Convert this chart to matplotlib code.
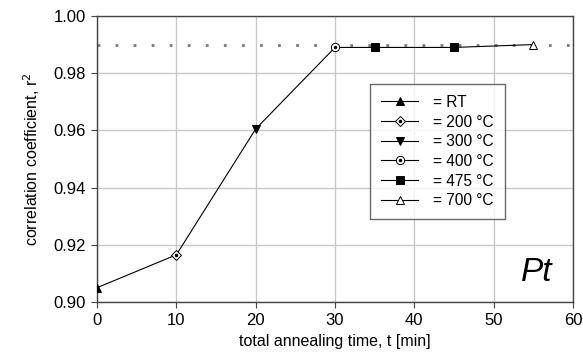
import matplotlib
matplotlib.use("Agg")
import matplotlib.pyplot as plt
from matplotlib.lines import Line2D

plt.rcParams['font.family'] = ['Liberation Sans', 'DejaVu Sans']

# annealing time [min] and correlation coefficient r^2 for each temperature step
time_min = [0, 10, 20, 30, 35, 45, 55]
r_squared = [0.905, 0.9165, 0.9605, 0.989, 0.989, 0.989, 0.990]
step_labels = ["= RT", "= 200 °C", "= 300 °C", "= 400 °C", "= 475 °C", "= 475 °C", "= 700 °C"]
reference_level = 0.99

xticks = [0, 10, 20, 30, 40, 50, 60]
yticks = [0.90, 0.92, 0.94, 0.96, 0.98, 1.00]

# marker style per point: (marker, facecolor, size, centre dot)
styles = [
    ("^", "black", 6, False),
    ("D", "white", 5, True),
    ("v", "black", 6, False),
    ("o", "white", 6, True),
    ("s", "black", 6, False),
    ("s", "black", 6, False),
    ("^", "white", 6, False),
]

fig = plt.figure(figsize=(5.83, 3.58), dpi=100)
ax = fig.add_axes([0.1664, 0.1564, 0.8165, 0.799])

ax.plot([xticks[0], xticks[-1]], [reference_level, reference_level], color="#7a7a7a",
        linestyle=(0, (1, 5.5)), linewidth=2, zorder=2)
ax.plot(time_min, r_squared, color="black", linewidth=0.8, zorder=3)

handles = {}
for x, y, lab, (m, fc, ms, dot) in zip(time_min, r_squared, step_labels, styles):
    h = Line2D([], [], color="black", linewidth=0.8, marker=m, markersize=ms,
               markerfacecolor=fc, markeredgecolor="black", markeredgewidth=0.7)
    ax.plot([x], [y], linestyle="none", marker=m, markersize=ms, markerfacecolor=fc,
            markeredgecolor="black", markeredgewidth=0.7, zorder=4)
    if dot:
        ax.plot([x], [y], linestyle="none", marker="o", markersize=1.5, color="black", zorder=5)
        d = Line2D([], [], linestyle="none", marker="o", markersize=1.5, color="black")
        h = (h, d)
    handles.setdefault(lab, h)

ax.set_xlim(0, 60)
ax.set_ylim(0.90, 1.00)
ax.set_xticks(xticks)
ax.set_yticks(yticks)
ax.set_yticklabels(["%.2f" % v for v in yticks])
ax.grid(True, color="#c8c8c8", linewidth=1)
ax.set_axisbelow(True)
for s in ax.spines.values():
    s.set_color("#444444")
    s.set_linewidth(1)
ax.tick_params(direction="out", length=4, color="#444444", labelsize=12, pad=4)

ax.set_xlabel("total annealing time, t [min]", fontsize=11.5, labelpad=4)
ax.set_ylabel("correlation coefficient, r$^2$", fontsize=11.5, labelpad=8)

ax.text(57.4, 0.9075, "Pt", fontsize=24, fontstyle="italic", ha="right", va="baseline")

leg = ax.legend(list(handles.values()), list(handles.keys()), loc="upper left",
                bbox_to_anchor=(0.574, 0.762), borderaxespad=0, fontsize=11.2, frameon=True,
                fancybox=False, edgecolor="#444444", handlelength=2.4, handletextpad=0.95,
                labelspacing=0.3, borderpad=0.7, numpoints=1)
leg.get_frame().set_linewidth(1)

fig.savefig("out.png", dpi=100)
